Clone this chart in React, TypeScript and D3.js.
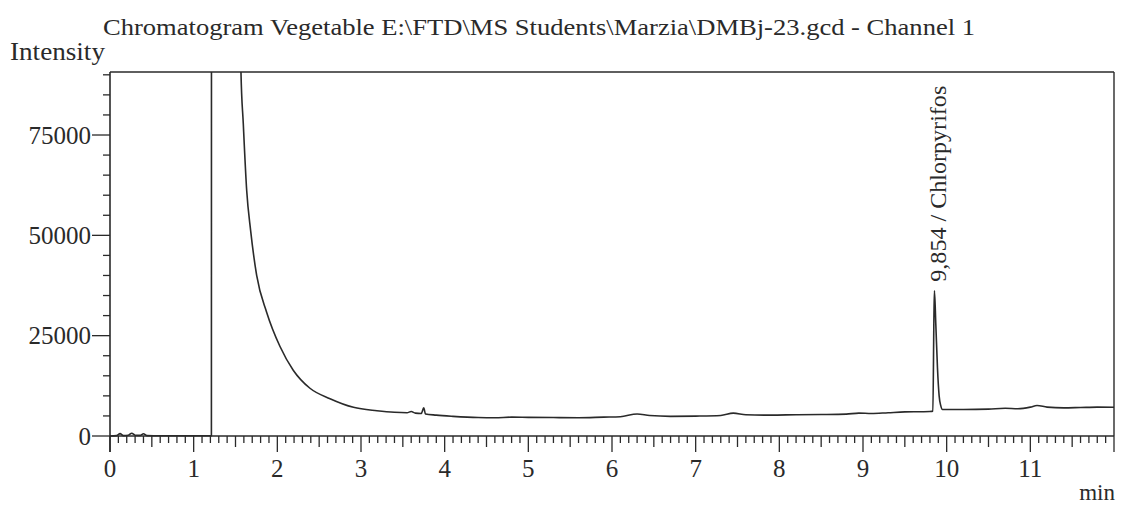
import React from "react";
import * as d3 from "d3";

// ---- Data ----
const timeMin: number[] = [
  0, 0.08, 0.12, 0.16, 0.22, 0.26, 0.3, 0.36, 0.4, 0.44, 0.6, 0.8, 1.0, 1.2, 1.212,
  1.215, 1.55,
  1.565, 1.593, 1.634, 1.682, 1.753, 1.873, 2.032, 2.19, 2.39, 2.63, 2.91, 3.19,
  3.4, 3.55, 3.6, 3.65, 3.72, 3.75, 3.77, 3.9, 4.1, 4.4, 4.6, 4.8, 5.0, 5.3, 5.6,
  5.9, 6.1, 6.3, 6.45, 6.7, 7.0, 7.3, 7.45, 7.6, 7.9, 8.2, 8.5, 8.8, 8.95, 9.1,
  9.3, 9.5, 9.7, 9.8, 9.835, 9.848, 9.854, 9.87, 9.89, 9.91, 9.93, 9.95, 10.2,
  10.5, 10.7, 10.85, 11.0, 11.08, 11.2, 11.4, 11.6, 11.8, 12.0,
];
const intensity: number[] = [
  0, 100, 600, 100, 200, 700, 200, 150, 550, 100, 50, 50, 50, 50, 50,
  400000, 400000,
  91000, 77850, 61100, 51000, 40000, 30800, 22300, 16400, 11900, 9300, 7150, 6300,
  5900, 5800, 6100, 5700, 5600, 7000, 5500, 5200, 4900, 4600, 4550, 4700, 4650, 4600, 4550,
  4700, 4800, 5500, 5100, 4900, 4950, 5100, 5700, 5300, 5200, 5300, 5350, 5450, 5700, 5600,
  5800, 6000, 6050, 6100, 6200, 30000, 36200, 28000, 17000, 10000, 7500, 6600, 6600,
  6700, 6900, 6800, 7200, 7600, 7200, 7000, 7100, 7200, 7150,
];
const xTickLabels: number[] = [0, 1, 2, 3, 4, 5, 6, 7, 8, 9, 10, 11];
const yTickLabels: number[] = [0, 25000, 50000, 75000];
const peakTime = 9.854;
const peakName = "9,854 / Chlorpyrifos";
const titleText = "Chromatogram Vegetable E:\\FTD\\MS Students\\Marzia\\DMBj-23.gcd - Channel 1";

const W = 1124;
const H = 506;
const left = 110;
const right = 1114;
const top = 72;
const bottom = 436;
const FONT = "Liberation Serif, Tinos, Times New Roman, serif";
const INK = "#2a2a2a";

export default function App() {
  const x = d3.scaleLinear().domain([0, 12]).range([left, right]);
  const y = d3.scaleLinear().domain([0, 90700]).range([bottom, top]);

  const pts: [number, number][] = timeMin.map((t, i) => [t, intensity[i]]);
  const line = d3
    .line<[number, number]>()
    .x((d) => x(d[0]))
    .y((d) => y(d[1]))
    .curve(d3.curveMonotoneX);

  const minorX = d3.range(0, 120 + 1).map((i) => i / 10);
  const minorY = d3.range(0, 90001, 5000);

  const peakIdx = timeMin.indexOf(peakTime);

  return (
    <svg
      width={W}
      height={H}
      style={{ position: "absolute", left: 0, top: 0, background: "#fff", fontFamily: FONT }}
    >
      <defs>
        <clipPath id="plotClip">
          <rect x={left} y={top} width={right - left} height={bottom - top + 2} />
        </clipPath>
      </defs>

      {/* title */}
      <text x={103} y={35} fontSize={24} fill={INK} textLength={872} lengthAdjust="spacingAndGlyphs">
        {titleText}
      </text>
      <text x={10} y={60} fontSize={25} fill={INK} textLength={95} lengthAdjust="spacingAndGlyphs">
        Intensity
      </text>

      {/* frame */}
      <line x1={left} x2={right} y1={top} y2={top} stroke={INK} strokeWidth={1.6} />
      <line x1={right} x2={right} y1={top} y2={bottom} stroke={INK} strokeWidth={1.4} />
      <line x1={left} x2={left} y1={top} y2={bottom + 16} stroke={INK} strokeWidth={1.6} />
      <line x1={left} x2={right} y1={bottom} y2={bottom} stroke={INK} strokeWidth={1.6} />

      {/* y ticks */}
      {minorY.map((v) => {
        const major = yTickLabels.includes(v);
        return (
          <line
            key={"ym" + v}
            x1={left - (major ? 18 : 7)}
            x2={left}
            y1={y(v)}
            y2={y(v)}
            stroke={INK}
            strokeWidth={1.3}
          />
        );
      })}
      {yTickLabels.map((v) => (
        <text
          key={"yl" + v}
          x={left - 19}
          y={y(v)}
          dy="0.34em"
          textAnchor="end"
          fontSize={25}
          fill={INK}
        >
          {v}
        </text>
      ))}

      {/* x ticks */}
      {minorX.map((v) => {
        const r = Math.round(v * 10);
        const len = r % 10 === 0 ? 16 : r % 5 === 0 ? 11 : 7;
        return (
          <line
            key={"xm" + r}
            x1={x(v)}
            x2={x(v)}
            y1={bottom}
            y2={bottom + len}
            stroke={INK}
            strokeWidth={1.3}
          />
        );
      })}
      {xTickLabels.map((v) => (
        <text key={"xl" + v} x={x(v)} y={477} textAnchor="middle" fontSize={25} fill={INK}>
          {v}
        </text>
      ))}
      <text x={1115} y={500} textAnchor="end" fontSize={23} fill={INK}>
        min
      </text>

      {/* trace */}
      <g clipPath="url(#plotClip)">
        <path d={line(pts) || ""} fill="none" stroke={INK} strokeWidth={1.6} strokeLinejoin="round" />
      </g>

      {/* peak label */}
      <text
        transform={`translate(${x(peakTime) + 12}, ${y(intensity[peakIdx]) - 9}) rotate(-90)`}
        fontSize={23}
        fill={INK}
        textLength={196}
        lengthAdjust="spacingAndGlyphs"
      >
        {peakName}
      </text>
    </svg>
  );
}
